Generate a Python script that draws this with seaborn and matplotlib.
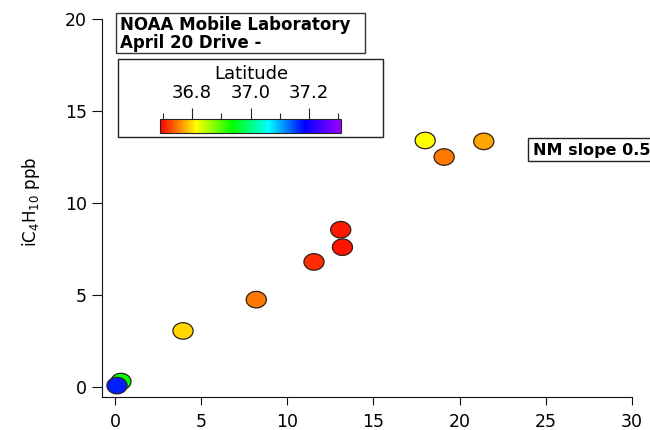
import matplotlib
matplotlib.use("Agg")
import matplotlib.pyplot as plt
import numpy as np
import pandas as pd
import seaborn as sns
from matplotlib.colors import LinearSegmentedColormap, Normalize
from matplotlib.colorbar import ColorbarBase
from matplotlib.patches import Rectangle
from matplotlib.path import Path
from matplotlib.ticker import FixedLocator

# Mobile-lab samples: NM (x), iC4H10 (y), coloured by latitude
nm_ppb = [18.0, 19.1, 21.4, 13.1, 13.2, 11.55, 8.2, 3.95, 0.35, 0.12]
ic4h10_ppb = [13.4, 12.5, 13.35, 8.55, 7.6, 6.8, 4.75, 3.05, 0.3, 0.08]
latitude = [36.815, 36.75, 36.77, 36.703, 36.70, 36.712, 36.75, 36.795, 36.94, 37.17]

lat_range = (36.69, 37.31)
lat_major = [36.8, 37.0, 37.2]
lat_minor = [36.7, 36.9, 37.1, 37.3]
lat_labels = ["36.8", "37.0", "37.2"]
x_ticks = [0, 5, 10, 15, 20, 25, 30]
y_ticks = [0, 5, 10, 15, 20]

df = pd.DataFrame({"nm": nm_ppb, "ic4": ic4h10_ppb, "lat": latitude})

sns.set_style("ticks")
plt.rcParams["font.family"] = ["DejaVu Sans"]
plt.rcParams["text.color"] = "black"
plt.rcParams["axes.labelcolor"] = "black"

rainbow = LinearSegmentedColormap.from_list(
    "rainbow_igor",
    ["#ff0000", "#ffff00", "#00ff00", "#00ffff", "#0000ff", "#9900ff"],
)
norm = Normalize(*lat_range)

W, H = 650, 430
fig = plt.figure(figsize=(W / 100, H / 100), dpi=100)


def fx(px):
    return px / W


def fy(py):
    return 1 - py / H


ax = fig.add_axes([fx(102), fy(397), fx(632 - 102), (397 - 19) / H])

# slightly wide oval marker
t = np.linspace(0, 2 * np.pi, 64)
oval = Path(np.column_stack([np.cos(t), 0.82 * np.sin(t)]), closed=True)

sns.scatterplot(
    data=df, x="nm", y="ic4", hue="lat", palette=rainbow, hue_norm=norm,
    marker=oval, s=210, edgecolor="#2e2018", linewidth=0.9, legend=False,
    ax=ax, zorder=3, clip_on=False,
)

ax.set_xlim(-0.75, 30)
ax.set_ylim(-0.54, 20)
ax.xaxis.set_major_locator(FixedLocator(x_ticks))
ax.yaxis.set_major_locator(FixedLocator(y_ticks))
ax.tick_params(axis="both", direction="out", width=0.8,
               color="#111111", labelsize=12.5, labelcolor="black")
ax.tick_params(axis="y", length=7.5, pad=3.5)
ax.tick_params(axis="x", length=6, pad=5.5)
for side in ("top", "right"):
    ax.spines[side].set_visible(False)
for side in ("left", "bottom"):
    ax.spines[side].set_linewidth(0.8)
    ax.spines[side].set_color("#111111")
ax.set_xlabel("")
ax.set_ylabel(r"iC$_4$H$_{10}$ ppb", fontsize=12)
ax.yaxis.set_label_coords(-0.113, 0.515)

# title box
fig.patches.append(Rectangle((fx(116), fy(53)), fx(365 - 116), (53 - 13) / H,
                             transform=fig.transFigure, facecolor="white",
                             edgecolor="#333333", linewidth=1, zorder=5))
fig.text(fx(120), fy(34), "NOAA Mobile Laboratory\nApril 20 Drive -",
         weight="bold", fontsize=12, va="center", ha="left",
         linespacing=0.95, zorder=6)

# colour-scale box
fig.patches.append(Rectangle((fx(118), fy(137)), fx(383 - 118), (137 - 59) / H,
                             transform=fig.transFigure, facecolor="white",
                             edgecolor="#222222", linewidth=1, zorder=5))
fig.text(fx(251), fy(74), "Latitude", fontsize=13, ha="center", va="center",
         zorder=6)
cax = fig.add_axes([fx(160), fy(133), fx(181), 14 / H], zorder=7)
cb = ColorbarBase(cax, cmap=rainbow, norm=norm, orientation="horizontal")
cb.outline.set_linewidth(0.8)
cax.xaxis.set_ticks_position("top")
cax.xaxis.set_major_locator(FixedLocator(lat_major))
cax.xaxis.set_ticklabels(lat_labels)
cax.xaxis.set_minor_locator(FixedLocator(lat_minor))
cax.tick_params(axis="x", which="major", direction="out", length=8, width=0.8,
                labelsize=13, pad=4, labelcolor="black")
cax.tick_params(axis="x", which="minor", direction="out", length=4.5, width=0.8)
cax.set_yticks([])

# slope annotation, running off the right edge
fig.patches.append(Rectangle((fx(528), fy(161)), fx(140), (161 - 138) / H,
                             transform=fig.transFigure, facecolor="white",
                             edgecolor="#222222", linewidth=1, zorder=5))
fig.text(fx(533), fy(150), "NM slope 0.5", weight="bold", fontsize=11.5,
         ha="left", va="center", zorder=6)

fig.savefig("out.png", dpi=100)
